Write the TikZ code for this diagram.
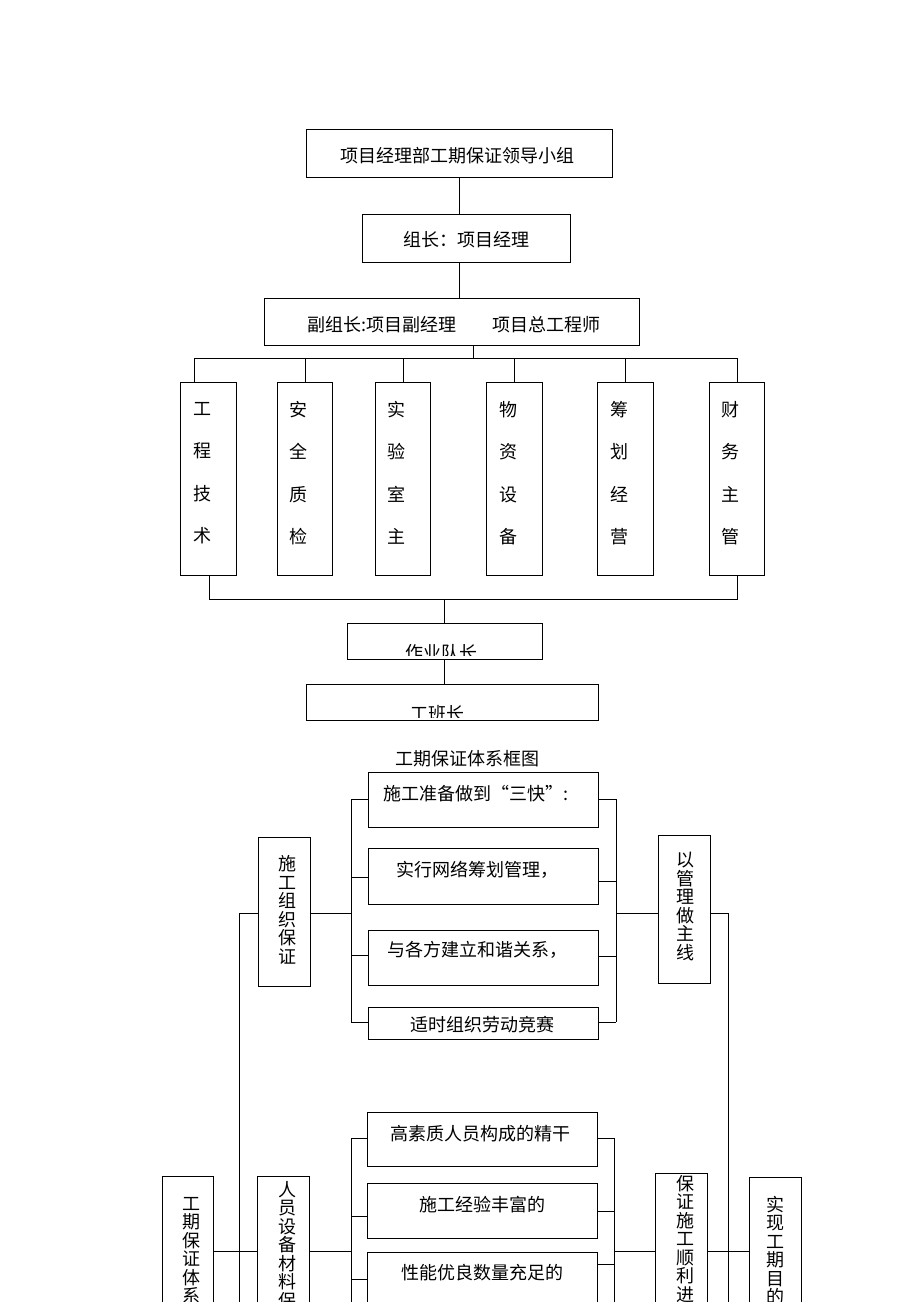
\documentclass[tikz,border=0pt]{standalone}
\usepackage{fontspec}
\newfontfamily\cjk{Noto Sans CJK SC}
\usetikzlibrary{calc}
\tikzset{
  box/.style={draw, line width=1pt, inner sep=0pt},
  txt/.style={font=\cjk\fontsize{18}{20}\selectfont, inner sep=0pt},
  vtxt/.style={font=\cjk\fontsize{18}{42.5}\selectfont, align=center, inner sep=0pt},
  vtxtt/.style={font=\cjk\fontsize{18}{18.5}\selectfont, align=center, inner sep=0pt},
  line/.style={line width=1pt}
}

\begin{document}
\begin{tikzpicture}[x=1pt, y=-1pt]
  \useasboundingbox (0,0) rectangle (920,1302);
  \clip (0,0) rectangle (920,1302);
  %%%%% LEADING GROUP %%%%%

  \node[box, minimum width=306pt, minimum height=48pt] (lead) at (459,153) {};
  \node[txt] (leadtxt) at (457,156) {项目经理部工期保证领导小组};
  \node[box, minimum width=208pt, minimum height=48pt] (head) at (466,238) {};
  \node[txt] (headtxt) at (466,240) {组长：项目经理};
  \node[box, minimum width=375pt, minimum height=47pt] (vice) at (451.5,321.5) {};
  \node[txt] (vicetxt) at (454,325) {副组长:项目副经理　　项目总工程师};

  \draw[line] (lead.south) -- (lead.south |- head.north);
  \draw[line] (lead.south |- head.south) -- (lead.south |- vice.north);

  % departments
  \foreach \n/\x/\t in {1/208.5/{工\\程\\技\\术}, 2/305/{安\\全\\质\\检}, 3/403/{实\\验\\室\\主},
                        4/514.5/{物\\资\\设\\备}, 5/625.5/{筹\\划\\经\\营}, 6/737/{财\\务\\主\\管}}{
    \node[box, minimum width=55.5pt, minimum height=193pt] (d\n) at (\x,478.5) {};
    \node[vtxt] (d\n txt) at (\x-6.5,473) {\t};
  }

  \coordinate (busA) at (194,358);
  \draw[line] (vice.south -| 473,0) -- (473,358);
  \draw[line] (busA |- d1.north) -- (busA) -- (busA -| d6.north);
  \foreach \n in {2,...,6}
    \draw[line] (d\n.north) -- (d\n.north |- busA);

  \node[box, minimum width=195pt, minimum height=36pt] (team) at (444.5,641) {};
  \node[box, minimum width=292pt, minimum height=36pt] (crew) at (452,702) {};

  \coordinate (busB) at (209,599);
  \draw[line] (busB |- d1.south) -- (busB) -- (busB -| d6.south) -- (d6.south);
  \draw[line] (busB -| team.north) -- (team.north);
  \draw[line] (team.south) -- (team.south |- crew.north);

  \begin{scope}
    \clip ($(team.south west)+(0,-4)$) rectangle (team.north east);
    \node[txt] (teamtxt) at (441,652.5) {作业队长};
  \end{scope}
  \begin{scope}
    \clip ($(crew.south west)+(0,-3)$) rectangle (crew.north east);
    \node[txt] (crewtxt) at (437,713.5) {工班长};
  \end{scope}

  %%%%% SYSTEM CHART %%%%%

  \node[txt] (title) at (467,759) {工期保证体系框图};

  \foreach \n/\y/\h/\tx/\ty/\t in {1/799.5/55/476/794/{施工准备做到“三快”:},
                                   2/876/56/477/870/{实行网络筹划管理，},
                                   3/957.5/55/477/950/{与各方建立和谐关系，},
                                   4/1023/32/482/1025/{适时组织劳动竞赛}}{
    \node[box, minimum width=230pt, minimum height=\h pt] (a\n) at (483,\y) {};
    \node[txt] (a\n txt) at (\tx,\ty) {\t};
  }

  \coordinate (al) at (351,913);
  \coordinate (ar) at (616,913);
  \draw[line] (351,799) -- (351,1022);
  \draw[line] (616,799) -- (616,1022);
  \foreach \n/\yl/\yr in {1/799/799, 2/877/881, 3/955/956, 4/1022/1022}{
    \draw[line] (351,\yl) -- (a\n.west |- 351,\yl);
    \draw[line] (a\n.east |- 616,\yr) -- (616,\yr);
  }

  \node[box, minimum width=52pt, minimum height=149pt] (org) at (284,911.5) {};
  \node[vtxtt] (orgtxt) at (287,910) {施\\工\\组\\织\\保\\证};
  \node[box, minimum width=52pt, minimum height=148pt] (mgmt) at (684,909) {};
  \node[vtxtt] (mgmttxt) at (685,906.5) {以\\管\\理\\做\\主\\线};

  \draw[line] (org.east |- al) -- (al);
  \draw[line] (org.west |- al) -- (239,913) -- (239,1310);
  \draw[line] (ar) -- (mgmt.west |- ar);
  \draw[line] (mgmt.east |- ar) -- (728,913) -- (728,1310);

  % resources
  \foreach \n/\y/\h/\tx/\ty/\t in {1/1139/54/480/1134/{高素质人员构成的精干},
                                   2/1210.5/55/482/1205/{施工经验丰富的},
                                   3/1286/68/482/1273/{性能优良数量充足的}}{
    \node[box, minimum width=230pt, minimum height=\h pt] (b\n) at (482,\y) {};
    \node[txt] (b\n txt) at (\tx,\ty) {\t};
  }

  \coordinate (bl) at (351,1251);
  \coordinate (br) at (614,1251);
  \draw[line] (351,1138) -- (351,1310);
  \draw[line] (614,1138) -- (614,1310);
  \foreach \n/\yl/\yr in {1/1138/1138, 2/1216/1211, 3/1279/1264}{
    \draw[line] (351,\yl) -- (b\n.west |- 351,\yl);
    \draw[line] (b\n.east |- 614,\yr) -- (614,\yr);
  }

  \node[box, minimum width=51pt, minimum height=154pt] (outer) at (187.5,1253) {};
  \node[vtxtt, anchor=north] (outertxt) at (191,1197) {工\\期\\保\\证\\体\\系};
  \node[box, minimum width=52pt, minimum height=154pt] (res) at (283,1253) {};
  \node[vtxtt, anchor=north] (restxt) at (287,1181) {人\\员\\设\\备\\材\\料\\保};
  \node[box, minimum width=52pt, minimum height=157pt] (smooth) at (681,1251.5) {};
  \node[vtxtt, anchor=north] (smoothtxt) at (685,1175) {保\\证\\施\\工\\顺\\利\\进};
  \node[box, minimum width=52pt, minimum height=153pt] (goal) at (775,1253.5) {};
  \node[vtxtt, anchor=north] (goaltxt) at (775,1196) {实\\现\\工\\期\\目\\的};

  \draw[line] (outer.east |- bl) -- (res.west |- bl);
  \draw[line] (res.east |- bl) -- (bl);
  \draw[line] (br) -- (smooth.west |- br);
  \draw[line] (smooth.east |- br) -- (goal.west |- br);

  %%%%% END %%%%%
\end{tikzpicture}
\end{document}
